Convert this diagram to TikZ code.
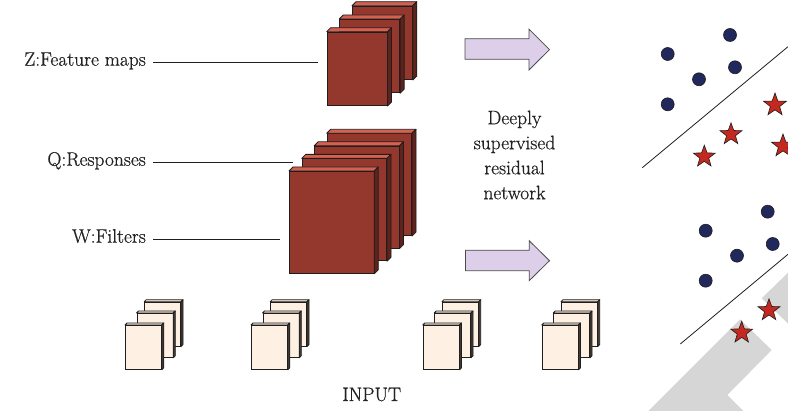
\documentclass[tikz,border=0pt]{standalone}
\usepackage{fontspec}
\setmainfont{Latin Modern Roman}[RawFeature={embolden=0.7}]
\usetikzlibrary{shapes.geometric}
\definecolor{boxred}{RGB}{148,56,46}
\definecolor{boxtop}{RGB}{214,96,80}
\definecolor{boxside}{RGB}{96,34,28}
\definecolor{inpfill}{RGB}{254,241,228}
\definecolor{inptop}{RGB}{240,225,210}
\definecolor{inpside}{RGB}{70,60,55}
\definecolor{arrowfill}{RGB}{221,207,233}
\definecolor{dotblue}{RGB}{33,40,92}
\definecolor{starred}{RGB}{196,40,30}
\definecolor{wmgray}{RGB}{214,214,214}
\definecolor{edgec}{RGB}{30,30,30}
\definecolor{txt}{RGB}{34,34,34}
\tikzset{
  slabface/.style={draw=edgec, line width=0.8pt, inner sep=0pt, anchor=north west},
  slabedge/.style={draw=edgec, line width=0.8pt, line join=round},
  lbl/.style={font=\fontsize{19.5}{25}\selectfont, text=txt, inner sep=0pt},
  leader/.style={draw=edgec, line width=0.8pt},
  bigarrow/.style={draw=edgec!80, line width=0.8pt, fill=arrowfill, line join=miter},
  dot/.style={circle, draw=edgec, line width=0.6pt, fill=dotblue, minimum size=13pt, inner sep=0pt},
  staricon/.style={star, star points=5, star point ratio=2.45, draw=edgec, line width=0.6pt, fill=starred, minimum size=24pt, inner sep=0pt},
  sepline/.style={draw=edgec, line width=0.8pt},
}
% name, x, y, w, h, depth, front, top, side
\newcommand\slab[9]{%
  \node[slabface, fill=#7, minimum width=#4pt, minimum height=#5pt] (#1) at (#2,#3) {};
  \filldraw[slabedge, fill=#8] (#1.north west) -- ++(#6,-#6) -- ([shift={(#6pt,#6pt)}]#1.north east) -- (#1.north east) -- cycle;
  \filldraw[slabedge, fill=#9] (#1.north east) -- ([shift={(#6pt,#6pt)}]#1.north east) -- ([shift={(#6pt,#6pt)}]#1.south east) -- (#1.south east) -- cycle;
}
% input stack: prefix, x offset
\newcommand\inputstack[2]{%
  \slab{#1c}{144.2+#2}{301.7}{36}{44}{2}{inpfill}{inptop}{inpside}
  \slab{#1b}{136.5+#2}{313}{36}{44}{2}{inpfill}{inptop}{inpside}
  \slab{#1a}{125+#2}{325}{36}{44}{2}{inpfill}{inptop}{inpside}
}
\begin{document}
\begin{tikzpicture}[x=1pt, y=-1pt]
\useasboundingbox (0,0) rectangle (788,411);
% watermark shapes
\fill[wmgray] (648.3,411) -- (740,319.3) -- (771.7,350) -- (727.3,395) -- (743.3,411) -- cycle;
\fill[wmgray] (761.7,298.3) -- (788,272.7) -- (788,323.5) -- cycle;

% top feature-map stack
\slab{z3}{352}{5.7}{60}{73.5}{4}{boxred}{boxtop}{boxside}
\slab{z2}{339.3}{19}{60}{73.5}{4}{boxred}{boxtop}{boxside}
\slab{z1}{326.7}{31.7}{60}{73.5}{4}{boxred}{boxtop}{boxside}

% bottom stack
\slab{q4}{326.7}{133.3}{84.5}{102}{4}{boxred}{boxtop}{boxside}
\slab{q3}{314.2}{145.8}{84.5}{102}{4}{boxred}{boxtop}{boxside}
\slab{q2}{301.7}{158.4}{84.5}{102}{4}{boxred}{boxtop}{boxside}
\slab{q1}{289}{171}{84.5}{102}{4}{boxred}{boxtop}{boxside}

% labels and leader lines
\node[lbl, anchor=base east] (Z) at (146,65.7) {Z:Feature maps};
\node[lbl, anchor=base east] (Q) at (146,165.7) {Q:Responses};
\node[lbl, anchor=base east] (W) at (146,242.7) {W:Filters};
\coordinate (zend) at (318,62.3);
\coordinate (qend) at (293,162.7);
\coordinate (wend) at (280,239);
\draw[leader] (Z.east |- zend) ++(7,0) -- (zend);
\draw[leader] (Q.east |- qend) ++(7,0) -- (qend);
\draw[leader] (W.east |- wend) ++(7,0) -- (wend);

% input stacks
\inputstack{ia}{0}
\inputstack{ib}{126}
\inputstack{ic}{297.7}
\inputstack{id}{416.7}
\node[lbl, anchor=base] (inp) at (371.7,401) {INPUT};

% arrows
\filldraw[bigarrow] (465,38.7) -- (529,38.7) -- (529,29.2) -- (549.5,49.6) -- (529,70) -- (529,59.3) -- (465,59.3) -- cycle;
\filldraw[bigarrow] (465.5,250.2) -- (529.2,250.2) -- (529.2,240.7) -- (549.5,260.7) -- (529.2,280.7) -- (529.2,270.7) -- (465.5,270.7) -- cycle;

\node[lbl, align=center, anchor=north] (dsrn) at (514.5,110.5) {Deeply\\supervised\\residual\\network};

% top scatter
\draw[sepline] (642.3,167.7) -- (788,46.7);
\node[dot] (d1) at (667.7,54) {};
\node[dot] (d2) at (730,35) {};
\node[dot] (d3) at (699,79.3) {};
\node[dot] (d4) at (735,67.3) {};
\node[dot] (d5) at (667.7,104.3) {};
\node[staricon] (s1) at (775,105) {};
\node[staricon, minimum size=23pt] (s2) at (731,134.3) {};
\node[staricon, minimum size=23pt] (s3) at (704.3,156.7) {};
\node[staricon] (s4) at (783,146) {};

% bottom scatter
\draw[sepline] (680.3,344) -- (788,254.3);
\node[dot] (e1) at (767.7,211.7) {};
\node[dot] (e2) at (705.7,230.7) {};
\node[dot] (e3) at (737,255.7) {};
\node[dot] (e4) at (772.7,244) {};
\node[dot] (e5) at (705.7,280.7) {};
\node[staricon, minimum size=23pt] (t1) at (769,310.3) {};
\node[staricon, minimum size=23pt] (t2) at (741.7,332.7) {};
\end{tikzpicture}
\end{document}
